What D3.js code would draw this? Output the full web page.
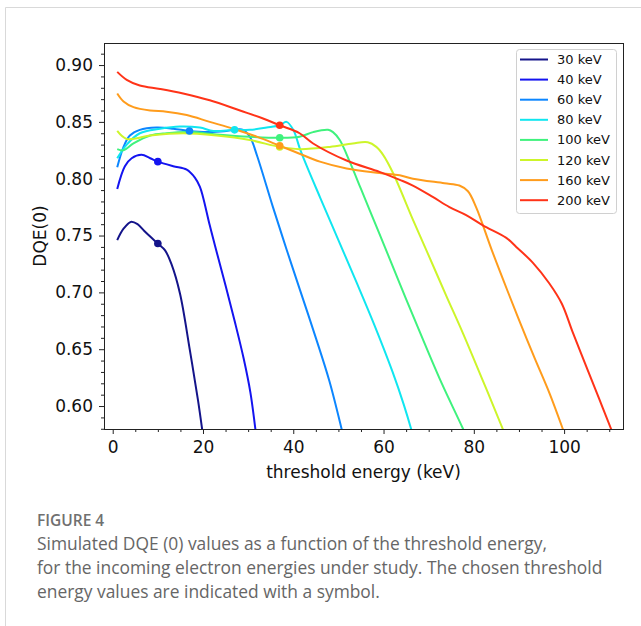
<!DOCTYPE html>
<html>
<head>
<meta charset="utf-8">
<script src="https://cdn.jsdelivr.net/npm/d3@7"></script>
<style>
  html, body { margin: 0; padding: 0; background: #fff; }
  svg { display: block; }
</style>
</head>
<body>
<svg id="fig" width="641" height="626"></svg>
<script>
// Incoming electron energies and their DQE(0) curves vs. threshold energy (keV)
const beamLabels = ["30 keV", "40 keV", "60 keV", "80 keV", "100 keV", "120 keV", "160 keV", "200 keV"];
const lineColors = ["#14148a", "#1414f0", "#0c86ff", "#10e6f0", "#3ff27d", "#cdf52a", "#ff9c1c", "#ff3318"];

const thr30  = [1, 2.4, 4, 5.5, 7, 8.6, 10, 11.6, 13, 14.9, 17.1, 18.9, 19.8, 20.8];
const dqe30  = [0.746, 0.756, 0.762, 0.760, 0.754, 0.748, 0.743, 0.737, 0.725, 0.699, 0.649, 0.605, 0.580, 0.550];

const thr40  = [1, 2.7, 4.2, 6.4, 8.3, 10, 13.4, 16.4, 18.2, 19.3, 20, 21.5, 23, 25, 27, 29, 30.5, 31.6, 32.5];
const dqe40  = [0.791, 0.811, 0.818, 0.821, 0.818, 0.815, 0.811, 0.808, 0.801, 0.793, 0.784, 0.759, 0.736, 0.706, 0.675, 0.642, 0.612, 0.580, 0.552];

const thr60  = [1, 2.4, 3.8, 6, 9.7, 13.4, 17, 20.8, 25.2, 28.9, 30.5, 32, 35.5, 38.5, 41.5, 45, 48, 50.7, 52];
const dqe60  = [0.810, 0.828, 0.838, 0.843, 0.845, 0.844, 0.842, 0.841, 0.842, 0.843, 0.836, 0.820, 0.775, 0.738, 0.702, 0.660, 0.622, 0.580, 0.558];

const thr80  = [1, 3.1, 6, 10.5, 14.9, 19.3, 22.3, 27, 30.4, 34.1, 37, 38.5, 40, 41.5, 43, 46, 50, 54, 58, 62, 64.5, 66.1, 67.6];
const dqe80  = [0.818, 0.830, 0.840, 0.844, 0.846, 0.845, 0.842, 0.843, 0.843, 0.845, 0.847, 0.850, 0.843, 0.826, 0.811, 0.783, 0.746, 0.709, 0.671, 0.630, 0.601, 0.580, 0.558];

const thr100 = [1, 2.4, 4.6, 8.3, 11.9, 17.1, 23, 30.4, 37, 41.4, 44.4, 47.7, 48.8, 50.3, 52.5, 55, 58, 61, 65, 69, 73, 77.6, 79.5];
const dqe100 = [0.826, 0.825, 0.831, 0.838, 0.840, 0.841, 0.839, 0.837, 0.836, 0.837, 0.841, 0.843, 0.841, 0.834, 0.815, 0.791, 0.762, 0.733, 0.694, 0.656, 0.619, 0.580, 0.562];

const thr120 = [1, 3.1, 8.3, 15.6, 23, 30.4, 37, 41.4, 48.1, 53.2, 56.5, 58.4, 59.9, 62.1, 66.5, 69.5, 73.9, 77.6, 83.5, 86.4, 88.2];
const dqe120 = [0.842, 0.835, 0.838, 0.840, 0.838, 0.834, 0.828, 0.826, 0.828, 0.831, 0.832, 0.828, 0.821, 0.805, 0.764, 0.737, 0.697, 0.664, 0.608, 0.580, 0.562];

const thr160 = [1, 2.4, 4.6, 8.3, 11.9, 16.4, 21.5, 26.7, 31.9, 37, 41.4, 45.9, 51.8, 59.1, 63.6, 66.5, 73.5, 76.8, 78.7, 80.5, 84, 87.5, 90.5, 93.5, 96.8, 99.7, 101.2];
const dqe160 = [0.875, 0.868, 0.863, 0.860, 0.859, 0.856, 0.850, 0.844, 0.837, 0.829, 0.822, 0.815, 0.809, 0.805, 0.803, 0.800, 0.796, 0.794, 0.789, 0.775, 0.737, 0.701, 0.671, 0.642, 0.611, 0.580, 0.563];

const thr200 = [1, 3.1, 6, 10.5, 15.6, 21.5, 28.2, 33.3, 37, 41.4, 44.4, 51.8, 59.1, 63.6, 66.5, 70.9, 74.6, 78.3, 82, 87.2, 89.4, 93.1, 96.7, 99.5, 101.9, 104.9, 107.8, 110.4, 111.6];
const dqe200 = [0.894, 0.887, 0.882, 0.879, 0.875, 0.869, 0.860, 0.853, 0.847, 0.840, 0.831, 0.816, 0.806, 0.799, 0.794, 0.784, 0.775, 0.768, 0.759, 0.748, 0.740, 0.726, 0.708, 0.690, 0.665, 0.635, 0.606, 0.580, 0.568];

// Chosen operating thresholds (one per beam energy)
const chosenThr = [10, 10, 17, 27, 37, 37, 37, 37];
const chosenDqe = [0.743, 0.815, 0.842, 0.843, 0.836, 0.828, 0.829, 0.847];

const xMajor = [0, 20, 40, 60, 80, 100];
const yMajor = [0.60, 0.65, 0.70, 0.75, 0.80, 0.85, 0.90];

const thresholds = [thr30, thr40, thr60, thr80, thr100, thr120, thr160, thr200];
const dqeValues  = [dqe30, dqe40, dqe60, dqe80, dqe100, dqe120, dqe160, dqe200];

const series = beamLabels.map((label, i) => ({
  label,
  color: lineColors[i],
  points: thresholds[i].map((t, j) => [t, dqeValues[i][j]])
}));

const svg = d3.select("#fig");
svg.append("rect").attr("width", 641).attr("height", 626).attr("fill", "#fff");

// Card border (top and left edges)
svg.append("path")
  .attr("d", "M5.5,626 V7.5 H641")
  .attr("fill", "none").attr("stroke", "#d9d9d9").attr("stroke-width", 1);

const plot = { left: 104, right: 623, top: 43, bottom: 429 };

const x = d3.scaleLinear().domain([-1.93, 113.05]).range([plot.left, plot.right]);
const y = d3.scaleLinear().domain([0.5798, 0.9194]).range([plot.bottom, plot.top]);

const tickFont = "'DejaVu Sans', sans-serif";

// Minor ticks
const xMinor = d3.range(0, 115, 5).filter(v => !xMajor.includes(v));
const yMinor = d3.range(58, 92).map(v => v / 100).filter(v => !yMajor.some(m => Math.abs(m - v) < 1e-9));

svg.append("g")
  .attr("transform", `translate(0,${plot.bottom})`)
  .call(d3.axisBottom(x).tickValues(xMinor).tickSize(3).tickFormat(""))
  .call(g => g.select(".domain").remove())
  .call(g => g.selectAll("line").attr("stroke", "#222"));

svg.append("g")
  .attr("transform", `translate(${plot.left},0)`)
  .call(d3.axisLeft(y).tickValues(yMinor).tickSize(3).tickFormat(""))
  .call(g => g.select(".domain").remove())
  .call(g => g.selectAll("line").attr("stroke", "#222"));

// Major ticks and labels
svg.append("g")
  .attr("transform", `translate(0,${plot.bottom})`)
  .call(d3.axisBottom(x).tickValues(xMajor).tickSize(5).tickPadding(7).tickFormat(d3.format("d")))
  .call(g => g.select(".domain").remove())
  .call(g => g.selectAll("line").attr("stroke", "#222"))
  .call(g => g.selectAll("text").attr("font-family", tickFont).attr("font-size", 17).attr("fill", "#111"));

svg.append("g")
  .attr("transform", `translate(${plot.left},0)`)
  .call(d3.axisLeft(y).tickValues(yMajor).tickSize(5).tickPadding(6).tickFormat(d3.format(".2f")))
  .call(g => g.select(".domain").remove())
  .call(g => g.selectAll("line").attr("stroke", "#222"))
  .call(g => g.selectAll("text").attr("font-family", tickFont).attr("font-size", 17).attr("fill", "#111"));

// Curves
svg.append("clipPath").attr("id", "plot-clip")
  .append("rect")
  .attr("x", plot.left).attr("y", plot.top)
  .attr("width", plot.right - plot.left).attr("height", plot.bottom - plot.top);

const line = d3.line()
  .x(d => x(d[0]))
  .y(d => y(d[1]))
  .curve(d3.curveCatmullRom.alpha(0.5));

const curves = svg.append("g").attr("clip-path", "url(#plot-clip)");
curves.selectAll("path")
  .data(series)
  .join("path")
  .attr("d", d => line(d.points))
  .attr("fill", "none")
  .attr("stroke", d => d.color)
  .attr("stroke-width", 2)
  .attr("stroke-linejoin", "round");

// Chosen-threshold markers
curves.selectAll("circle")
  .data(series.map((s, i) => ({ color: s.color, t: chosenThr[i], v: chosenDqe[i] })))
  .join("circle")
  .attr("cx", d => x(d.t))
  .attr("cy", d => y(d.v))
  .attr("r", 3.8)
  .attr("fill", d => d.color);

// Plot frame
svg.append("rect")
  .attr("x", plot.left + 0.5).attr("y", plot.top + 0.5)
  .attr("width", plot.right - plot.left).attr("height", plot.bottom - plot.top)
  .attr("fill", "none").attr("stroke", "#222").attr("stroke-width", 1);

// Axis titles
svg.append("text")
  .attr("x", (plot.left + plot.right) / 2).attr("y", 478)
  .attr("text-anchor", "middle")
  .attr("font-family", tickFont).attr("font-size", 17).attr("fill", "#111")
  .text("threshold energy (keV)");

svg.append("text")
  .attr("transform", `translate(46,${(plot.top + plot.bottom) / 2}) rotate(-90)`)
  .attr("text-anchor", "middle")
  .attr("font-family", tickFont).attr("font-size", 17).attr("fill", "#111")
  .text("DQE(0)");

// Legend
const legend = svg.append("g");
legend.append("rect")
  .attr("x", 516.5).attr("y", 49.5).attr("width", 100).attr("height", 164)
  .attr("rx", 3)
  .attr("fill", "#fff").attr("fill-opacity", 0.85)
  .attr("stroke", "#d0d0d0");

const entry = legend.selectAll("g.entry")
  .data(series)
  .join("g")
  .attr("class", "entry")
  .attr("transform", (d, i) => `translate(0,${59.5 + i * 20.1})`);

entry.append("line")
  .attr("x1", 520).attr("x2", 548)
  .attr("stroke", d => d.color).attr("stroke-width", 2);

entry.append("text")
  .attr("x", 557).attr("y", 0).attr("dy", "0.35em")
  .attr("font-family", tickFont).attr("font-size", 13).attr("fill", "#111")
  .text(d => d.label);

// Caption
const capFont = "'Open Sans', 'Noto Sans', sans-serif";
svg.append("text")
  .attr("x", 37).attr("y", 526)
  .attr("font-family", capFont).attr("font-size", 15.5).attr("font-weight", 600)
  .attr("fill", "#707070")
  .text("FIGURE 4");

const captionLines = [
  "Simulated DQE (0) values as a function of the threshold energy,",
  "for the incoming electron energies under study. The chosen threshold",
  "energy values are indicated with a symbol."
];
svg.selectAll("text.caption")
  .data(captionLines)
  .join("text")
  .attr("class", "caption")
  .attr("x", 37)
  .attr("y", (d, i) => 550 + i * 24)
  .attr("font-family", capFont).attr("font-size", 17.4)
  .attr("fill", "#666")
  .text(d => d);
</script>
</body>
</html>
